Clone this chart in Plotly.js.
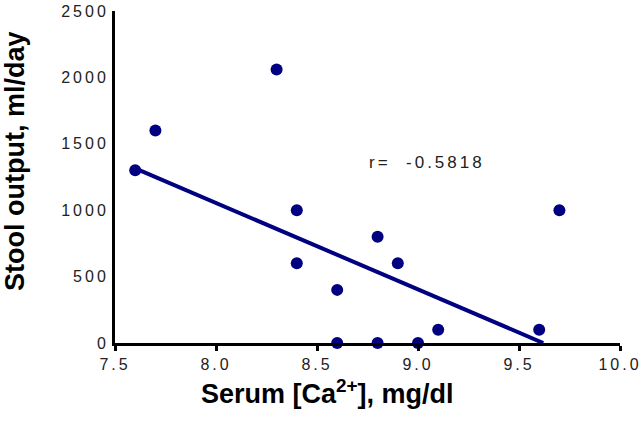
<!DOCTYPE html>
<html>
<head>
<meta charset="utf-8">
<script src="https://cdn.plot.ly/plotly-3.0.1.min.js"></script>
<style>
  html, body { margin: 0; padding: 0; background: #fff; }
  #chart { width: 642px; height: 432px; }
  .xtick text, .ytick text { letter-spacing: 3px; }
</style>
</head>
<body>
<div id="chart"></div>
<script>
// Serum calcium (mg/dl) vs stool output (ml/day)
const serumCa = [7.6, 7.7, 8.3, 8.4, 8.4, 8.6, 8.6, 8.8, 8.8, 8.9, 9.0, 9.1, 9.6, 9.7];
const stoolOutput = [1300, 1600, 2060, 1000, 600, 400, 0, 800, 0, 600, 0, 100, 100, 1000];

// Regression line endpoints as drawn in the figure
const fitX = [7.6, 9.62];
const fitY = [1315, 0];

const xTicks = [7.5, 8.0, 8.5, 9.0, 9.5, 10.0];
const yTicks = [0, 500, 1000, 1500, 2000, 2500];
const corrText = 'r=  -0.5818';

const navy = '#000080';

const traces = [
  {
    x: fitX, y: fitY, type: 'scatter', mode: 'lines',
    line: { color: navy, width: 4 },
    cliponaxis: false, hoverinfo: 'skip', showlegend: false
  },
  {
    x: serumCa, y: stoolOutput, type: 'scatter', mode: 'markers',
    marker: { color: navy, size: 12 },
    cliponaxis: false, showlegend: false
  }
];

const tickFont = { family: 'Liberation Sans, Arial, sans-serif', size: 16, color: '#222' };
const titleFont = { family: 'Liberation Sans, Arial, sans-serif', size: 27, color: '#000', weight: 'bold' };

const L = 115, R = 22, T = 11, B = 89;
const PW = 642 - L - R, PH = 432 - T - B;

const layout = {
  width: 642, height: 432,
  margin: { l: L, r: R, t: T, b: B },
  paper_bgcolor: '#fff', plot_bgcolor: '#fff',
  showlegend: false,
  xaxis: {
    range: [7.5, 10.0], tickvals: xTicks, tickformat: '.1f',
    showgrid: false, zeroline: false,
    showline: true, linecolor: '#000', linewidth: 3,
    ticks: 'outside', ticklen: 5, tickwidth: 3, tickcolor: '#000',
    ticklabeloverflow: 'allow',
    tickfont: tickFont
  },
  yaxis: {
    range: [0, 2500], tickvals: yTicks,
    showgrid: false, zeroline: false,
    showline: true, linecolor: '#000', linewidth: 3,
    ticks: '', ticklabeloverflow: 'allow',
    tickfont: tickFont
  },
  annotations: [
    {
      text: 'Serum [Ca<sup>2+</sup>], mg/dl',
      xref: 'paper', yref: 'paper', x: (327 - L) / PW, y: -(392 - (432 - B)) / PH,
      xanchor: 'center', yanchor: 'middle', showarrow: false,
      font: titleFont
    },
    {
      text: 'Stool output, ml/day',
      xref: 'paper', yref: 'paper', x: -(L - 15) / PW, y: ((432 - B) - 162) / PH,
      xanchor: 'center', yanchor: 'middle', textangle: -90, showarrow: false,
      font: titleFont
    },
    {
      text: '<span style="letter-spacing:3px">' + corrText + '</span>',
      xref: 'paper', yref: 'paper', x: (367 - L) / PW, y: ((432 - B) - 162) / PH,
      xanchor: 'left', yanchor: 'middle', showarrow: false,
      font: { family: 'Liberation Sans, Arial, sans-serif', size: 17, color: '#222' }
    }
  ]
};

Plotly.newPlot('chart', traces, layout, { displayModeBar: false, staticPlot: true });
</script>
</body>
</html>
